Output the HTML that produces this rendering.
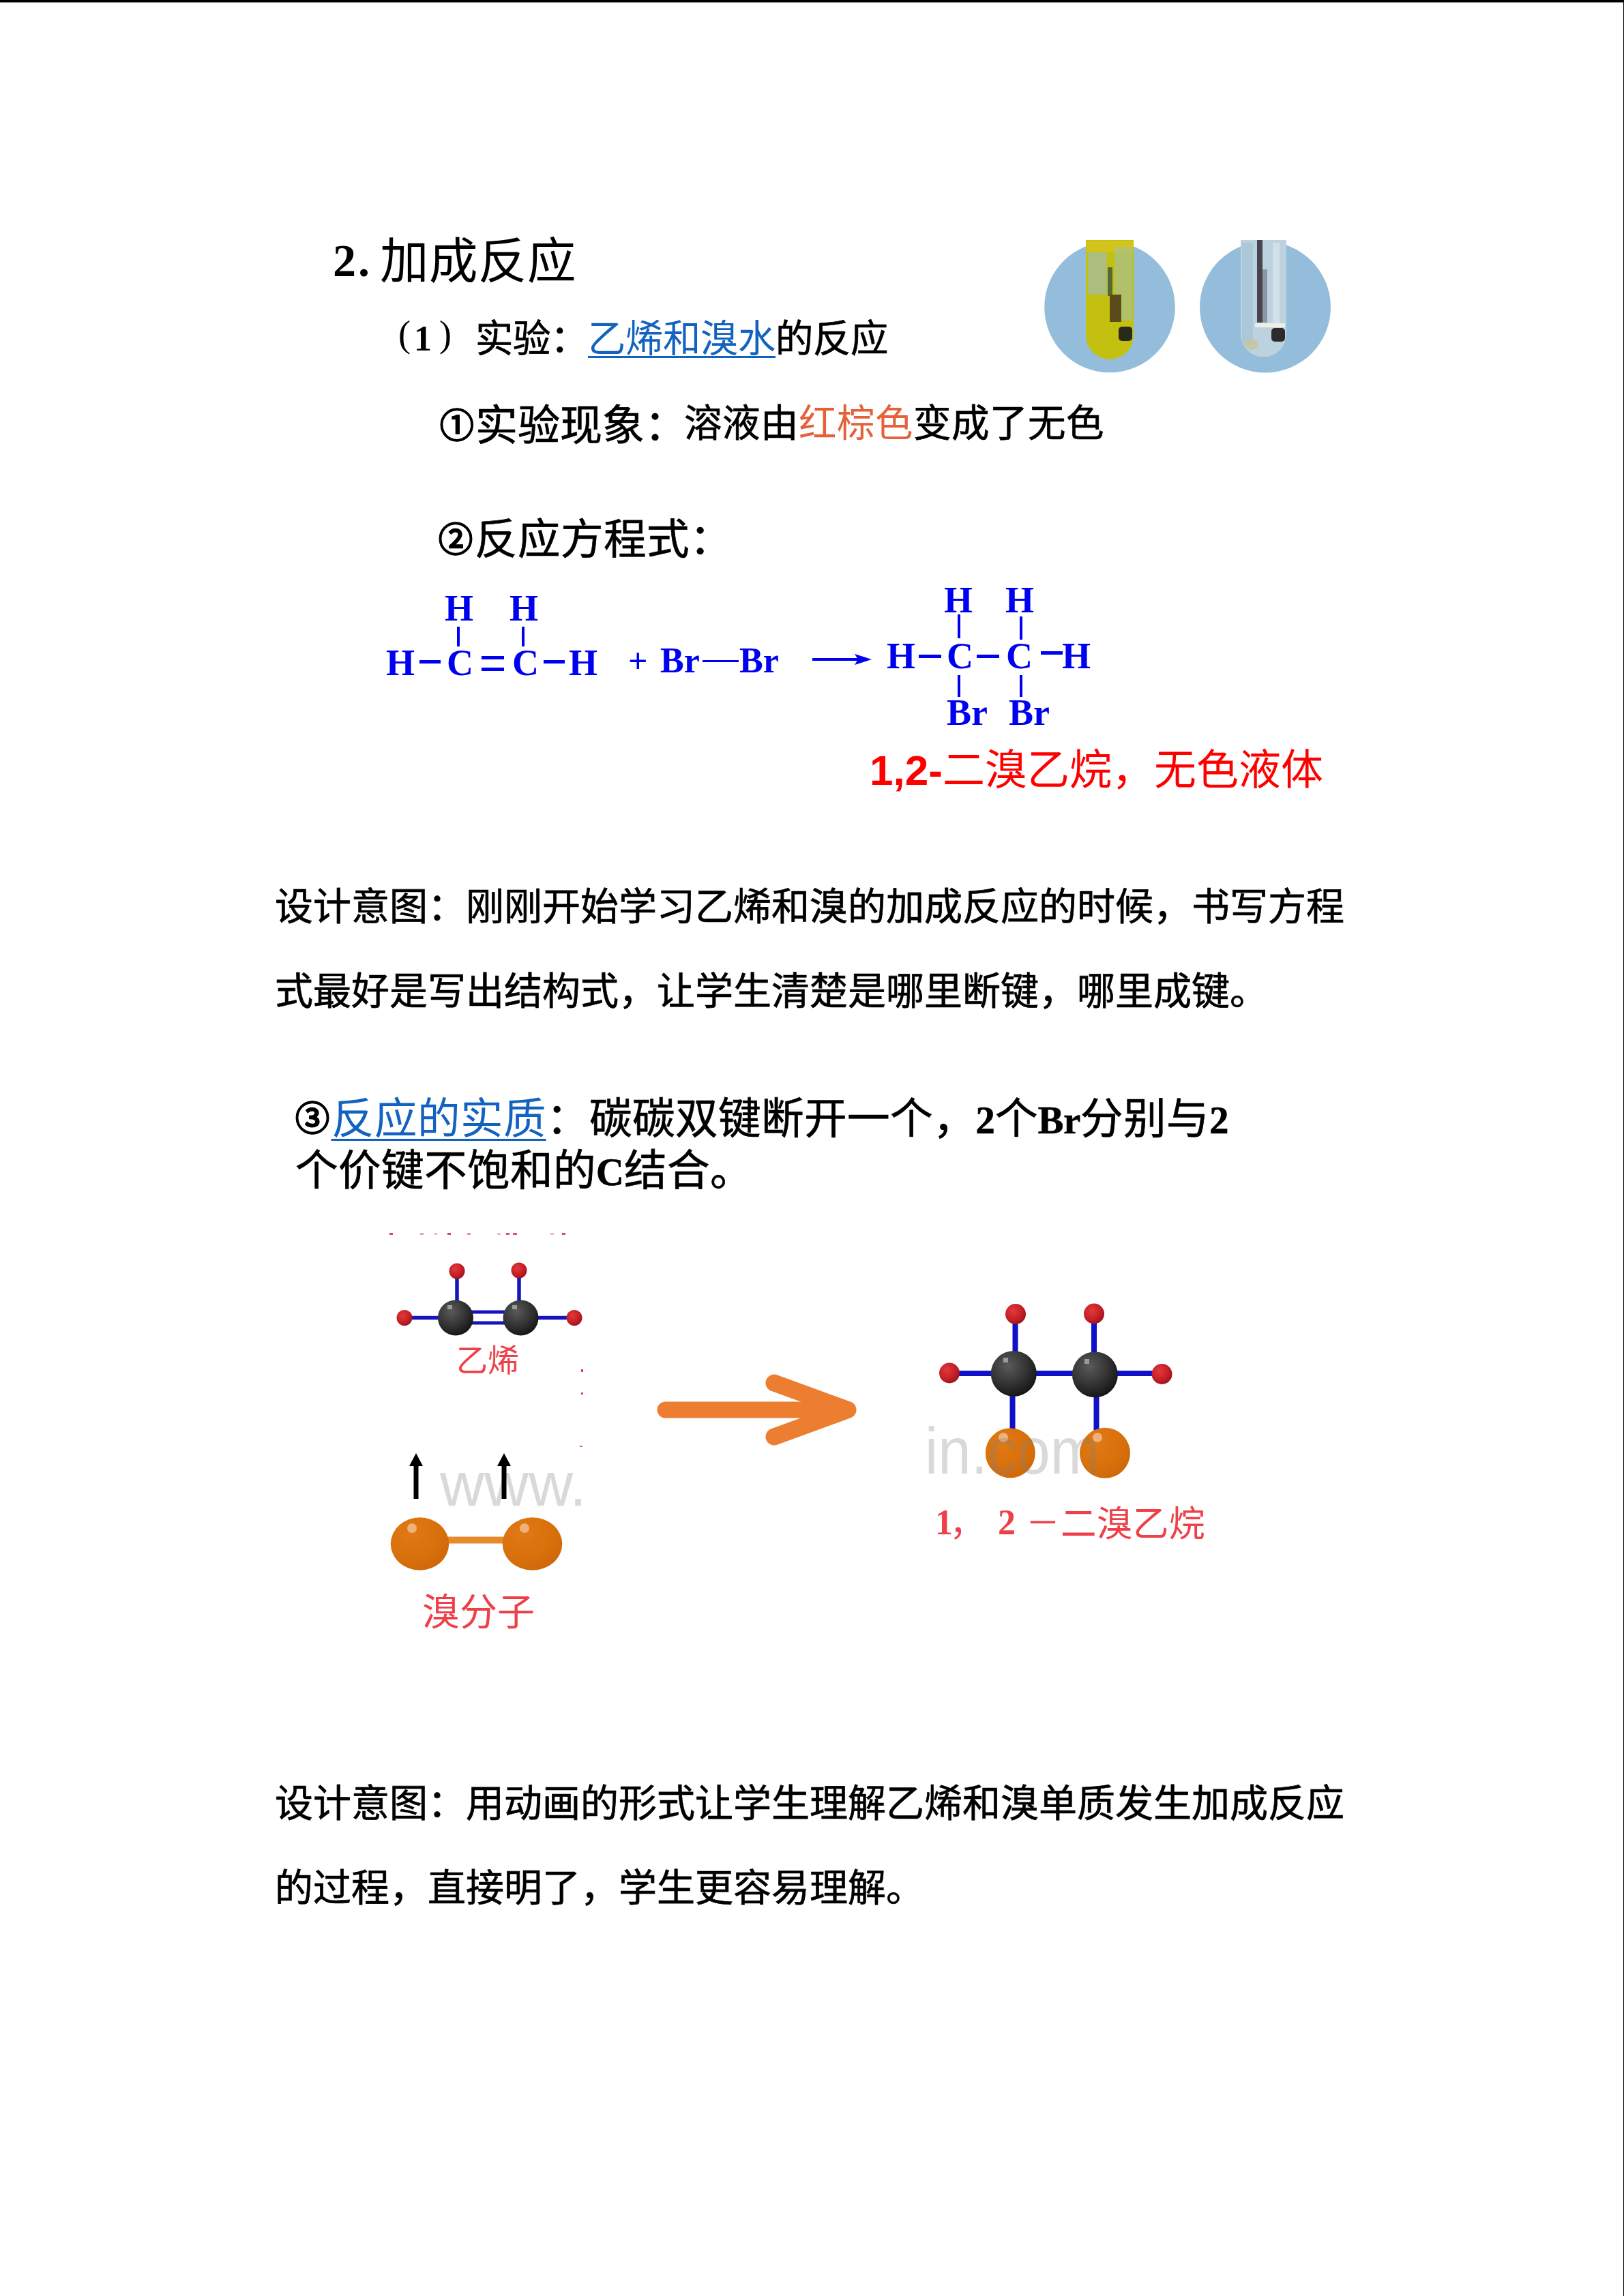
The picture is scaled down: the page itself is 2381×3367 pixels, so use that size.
<!DOCTYPE html>
<html lang="zh-CN">
<head>
<meta charset="utf-8">
<style>
html,body{margin:0;padding:0;}
body{width:2381px;height:3367px;background:#fff;position:relative;overflow:hidden;font-family:"Liberation Serif",serif;color:#000;}
.a{position:absolute;white-space:nowrap;line-height:1;}
.topbar{position:absolute;left:0;top:0;width:2381px;height:3px;background:#000;border-bottom:1px solid #808080;}
.rbar{position:absolute;right:0;top:0;width:1px;height:3367px;background:#000;}
.song{font-family:"Liberation Serif",serif;}
.sans{font-family:"Liberation Sans",sans-serif;}
.blue{color:#1f6fc5;}
.lnk{-webkit-text-stroke:0;color:#1262c0;text-decoration:underline;text-decoration-thickness:2.5px;text-underline-offset:6px;}
.eq{font-family:"Liberation Serif",serif;font-weight:bold;color:#0000f0;}
.cd{font-size:0.8em;vertical-align:0.08em;margin-right:0.05em;font-weight:700;}
.lt{font-weight:bold;font-size:0.9em;}
.bd{-webkit-text-stroke:0.7px currentColor;}
.p{font-size:56px;font-weight:500;}
</style>
</head>
<body>
<div class="topbar"></div>
<div class="rbar"></div>

<!-- Slide image area -->
<div class="a" id="h1" style="left:0;top:0;"><b class="a" style="left:488px;top:348px;font-size:68px;letter-spacing:3px;">2.</b><span class="a" style="left:557px;top:348px;font-size:71.5px;">加成反应</span></div>
<div class="a" id="s1a" style="left:0;top:0;font-size:54px;"><span class="a" style="left:584px;top:463px;">(</span><b class="a" style="left:607px;top:471px;font-size:52px;">1</b><span class="a" style="left:644px;top:463px;">)</span></div>
<div class="a bd" id="s1" style="left:697px;top:470px;font-size:55.4px;font-weight:500;">实验：<span class="lnk">乙烯和溴水</span>的反应</div>



<div class="a bd" id="s2" style="left:645px;top:594px;font-size:62px;font-weight:500;"><span class="cd">①</span>实验现象：</div>
<div class="a bd" id="s2b" style="left:1003px;top:594px;font-size:55.5px;font-weight:500;">溶液由<span style="color:#e6603a;font-weight:400;-webkit-text-stroke:0">红棕色</span>变成了无色</div>
<div class="a bd" id="s3" style="left:643px;top:761px;font-size:62.5px;font-weight:500;"><span class="cd">②</span>反应方程式：</div>


<svg class="a" style="left:0;top:0;" width="2381" height="3367" viewBox="0 0 2381 3367">
<defs>
  <radialGradient id="gC" cx="0.38" cy="0.32" r="0.75">
    <stop offset="0" stop-color="#5a5a5a"/><stop offset="0.55" stop-color="#333"/><stop offset="1" stop-color="#111"/>
  </radialGradient>
  <radialGradient id="gH" cx="0.38" cy="0.35" r="0.75">
    <stop offset="0" stop-color="#e03a3a"/><stop offset="0.6" stop-color="#c41e26"/><stop offset="1" stop-color="#8e1018"/>
  </radialGradient>
  <radialGradient id="gB" cx="0.35" cy="0.3" r="0.8">
    <stop offset="0" stop-color="#e07a14"/><stop offset="0.6" stop-color="#d8700c"/><stop offset="1" stop-color="#cc660a"/>
  </radialGradient>
</defs>
<!-- test tubes -->
<g id="tubes">
  <circle cx="1627" cy="450.5" r="95.8" fill="#93bddb"/>
  <circle cx="1855" cy="450.5" r="96" fill="#93bddb"/>
  <path d="M1592 352 H1662 V492 A35 35 0 0 1 1592 492 Z" fill="#c4c010"/>
  <rect x="1593" y="353" width="68" height="16" fill="#d4c41a"/>
  <rect x="1595" y="370" width="28" height="62" fill="#a4bca4" opacity="0.75"/>
  <rect x="1634" y="362" width="26" height="108" fill="#a8c290" opacity="0.7"/>
  <rect x="1624" y="392" width="7" height="42" fill="#56683a"/>
  <rect x="1627" y="432" width="17" height="40" fill="#5c4c1c"/>
  <rect x="1640" y="479" width="20" height="21" rx="5" fill="#2a2a1c"/>
  <path d="M1819 352 H1886 V490 A33.5 33.5 0 0 1 1819 490 Z" fill="#bcd2de"/>
  <rect x="1821" y="356" width="16" height="150" fill="#a8c4d6" opacity="0.8"/>
  <rect x="1866" y="356" width="10" height="120" fill="#d4e2ea" opacity="0.9"/>
  <rect x="1843" y="352" width="8" height="121" fill="#484450"/>
  <rect x="1851" y="395" width="7" height="78" fill="#8a98a6"/>
  <rect x="1840" y="474" width="44" height="6" fill="#eeeee6"/>
  <rect x="1864" y="481" width="20" height="20" rx="5" fill="#2c2c2c"/>
  <ellipse cx="1835" cy="505" rx="10" ry="8" fill="#cac2a0" opacity="0.8"/>
</g>
<!-- equation -->
<g id="eqn" font-family="Liberation Serif" font-weight="bold" font-size="54" fill="#0000f0">
  <text x="652" y="910">H</text><text x="747" y="910">H</text>
  <rect x="670" y="919" width="4" height="29"/><rect x="765" y="919" width="4" height="29"/>
  <text x="566" y="990">H</text>
  <rect x="615" y="968" width="31" height="5"/>
  <text x="655" y="990">C</text>
  <rect x="706" y="962" width="33" height="5"/><rect x="706" y="979" width="33" height="5"/>
  <text x="751" y="990">C</text>
  <rect x="797" y="968" width="31" height="5"/>
  <text x="834" y="990">H</text>
  <text x="921" y="986" font-size="50">+</text>
  <text x="968" y="986" font-size="52">Br</text>
  <rect x="1030" y="968" width="53" height="3"/>
  <text x="1084" y="986" font-size="52">Br</text>
  <rect x="1191" y="965" width="72" height="4"/>
  <path d="M1253 959 L1278 967 L1253 975 L1258 967 Z"/>
  <text x="1300" y="980">H</text>
  <rect x="1347" y="960" width="33" height="5"/>
  <text x="1388" y="980">C</text>
  <rect x="1432" y="960" width="33" height="5"/>
  <text x="1475" y="980">C</text>
  <rect x="1526" y="955" width="32" height="5"/>
  <text x="1557" y="980">H</text>
  <text x="1384" y="898">H</text><text x="1474" y="898">H</text>
  <rect x="1404" y="901" width="4" height="35"/><rect x="1495" y="904" width="4" height="34"/>
  <rect x="1404" y="990" width="4" height="32"/><rect x="1495" y="990" width="4" height="32"/>
  <text x="1388" y="1063">Br</text><text x="1479" y="1063">Br</text>
</g>
<!-- left molecule image -->
<g id="leftimg">
  <g>
    <rect x="571" y="1808" width="5" height="3" fill="#d8408a"/><rect x="616" y="1808" width="5" height="3" fill="#e6a0c0"/><rect x="637" y="1808" width="4" height="3" fill="#e8b0c8"/>
    <rect x="656" y="1808" width="5" height="3" fill="#d8408a"/><rect x="685" y="1808" width="5" height="3" fill="#e090b0"/><rect x="729" y="1808" width="5" height="3" fill="#ecc0d4"/>
    <rect x="742" y="1808" width="5" height="3" fill="#d85090"/><rect x="752" y="1808" width="6" height="3" fill="#d85090"/><rect x="807" y="1808" width="5" height="3" fill="#ecb8cc"/><rect x="824" y="1808" width="5" height="3" fill="#d8408a"/>
  </g>
  <g stroke="#1414c0" stroke-width="5.5">
    <line x1="593" y1="1932.5" x2="842" y2="1932.5"/>
    <line x1="670" y1="1864" x2="670" y2="1920"/>
    <line x1="761" y1="1863" x2="761" y2="1920"/>
  </g>
  <rect x="690" y="1928" width="55" height="9" fill="#fff"/>
  <rect x="690" y="1921.5" width="50" height="5" fill="#1414c0"/>
  <rect x="690" y="1937.5" width="50" height="5" fill="#1414c0"/>
  <circle cx="593" cy="1932.5" r="11.5" fill="url(#gH)"/>
  <circle cx="842" cy="1932.5" r="11.5" fill="url(#gH)"/>
  <circle cx="670" cy="1864" r="11.5" fill="url(#gH)"/>
  <circle cx="761" cy="1863" r="11.5" fill="url(#gH)"/>
  <circle cx="668" cy="1932.5" r="26" fill="url(#gC)"/>
  <circle cx="763.5" cy="1932.5" r="26" fill="url(#gC)"/>
  <rect x="656" y="1914" width="7" height="6" fill="#9a9a9a"/>
  <rect x="751" y="1914" width="7" height="6" fill="#9a9a9a"/>
  <rect x="852" y="2008" width="3" height="4" fill="#e04040"/>
  <rect x="852" y="2042" width="3" height="3" fill="#e04040"/>
  <rect x="850" y="2120" width="4" height="2" fill="#e06060"/>
  <clipPath id="clipL"><rect x="540" y="1780" width="314" height="640"/></clipPath>
  <text x="645" y="2208" font-family="Liberation Sans" font-size="90" fill="#d9d9d9" clip-path="url(#clipL)">www.</text>
  <g fill="#000">
    <rect x="606.5" y="2147" width="7" height="51"/>
    <path d="M610 2131 L620 2150 L600 2150 Z"/>
    <rect x="735.5" y="2147" width="7" height="51"/>
    <path d="M739 2131 L749 2150 L729 2150 Z"/>
  </g>
  <rect x="655" y="2253.5" width="85" height="10" fill="#e68a2c"/>
  <ellipse cx="615.5" cy="2264" rx="42.7" ry="38.8" fill="url(#gB)"/>
  <ellipse cx="780.5" cy="2264" rx="43.8" ry="38.8" fill="url(#gB)"/>
  <circle cx="604" cy="2241" r="7" fill="#f0b07a"/>
  <circle cx="769" cy="2241" r="7" fill="#f0b07a"/>
</g>
<!-- orange arrow -->
<g id="oarrow" stroke="#ed7d31" fill="none" stroke-linecap="round">
  <line x1="975.5" y1="2067.5" x2="1215" y2="2067.5" stroke-width="24"/>
  <polyline points="1135,2028 1243,2067.5 1135,2107" stroke-width="25" stroke-linejoin="round"/>
</g>
<!-- right molecule -->
<g id="rightimg">
    <g stroke="#1010c8" stroke-width="8">
    <line x1="1392" y1="2014" x2="1703" y2="2014"/>
    <line x1="1488.5" y1="1927" x2="1488.5" y2="2014"/>
    <line x1="1604" y1="1926" x2="1604" y2="2015"/>
    <line x1="1484.5" y1="2014" x2="1484.5" y2="2100"/>
    <line x1="1607.5" y1="2015" x2="1607.5" y2="2100"/>
  </g>
  <circle cx="1392" cy="2013.5" r="15" fill="url(#gH)"/>
  <circle cx="1703.5" cy="2015" r="15" fill="url(#gH)"/>
  <circle cx="1489" cy="1927" r="15" fill="url(#gH)"/>
  <circle cx="1604" cy="1926.5" r="15" fill="url(#gH)"/>
  <circle cx="1486.3" cy="2014.4" r="33.5" fill="url(#gC)"/>
  <circle cx="1605.4" cy="2015.8" r="33.5" fill="url(#gC)"/>
  <rect x="1471" y="1991" width="7" height="7" fill="#9a9a9a"/>
  <rect x="1590" y="1993" width="7" height="7" fill="#9a9a9a"/>
  <circle cx="1481.3" cy="2130.8" r="36.5" fill="url(#gB)"/>
  <circle cx="1620" cy="2130.8" r="37" fill="url(#gB)"/>
  <circle cx="1471" cy="2108" r="7" fill="#f0b07a"/>
  <circle cx="1609" cy="2108" r="7" fill="#f0b07a"/>
  <text x="1356" y="2161" font-family="Liberation Sans" font-size="87" fill="#808080" fill-opacity="0.3" transform="translate(0,2161) scale(1,1.1) translate(0,-2161)">in.com</text>
</g>
</svg>

<div class="a sans" id="red1" style="left:1275px;top:1099px;font-size:62px;color:#f00;"><b>1,2-</b>二溴乙烷，无色液体</div>

<div class="a p bd" id="p1a" style="left:403px;top:1301.5px;">设计意图：刚刚开始学习乙烯和溴的加成反应的时候，书写方程</div>
<div class="a p bd" id="p1b" style="left:403px;top:1426px;">式最好是写出结构式，让学生清楚是哪里断键，哪里成键。</div>

<div class="a bd" id="p3a" style="left:433px;top:1610px;font-size:62.6px;font-weight:500;"><span class="cd">③</span><span class="lnk" style="font-weight:400;text-underline-offset:8px">反应的实质</span>：碳碳双键断开一个，<span class="lt">2</span>个<span class="lt">Br</span>分别与<span class="lt">2</span></div>
<div class="a bd" id="p3b" style="left:433px;top:1685.5px;font-size:62.6px;font-weight:500;">个价键不饱和的<span class="lt">C</span>结合。</div>


<div class="a sans" id="lb1" style="left:669px;top:1972px;font-size:46px;color:#ee4048;">乙烯</div>
<div class="a sans" id="lb2" style="left:619px;top:2337px;font-size:55px;color:#ee4048;">溴分子</div>
<div class="a" id="lb3" style="left:0;top:0;color:#ee4048;">
<span class="a" style="left:1371px;top:2207px;font-size:52px;font-weight:bold;">1</span>
<span class="a" style="left:1392px;top:2209px;font-size:52px;">，</span>
<span class="a" style="left:1463px;top:2207px;font-size:52px;font-weight:bold;">2</span>
<span class="a" style="left:1504px;top:2209px;font-size:50px;">－</span>
<span class="a" style="left:1555px;top:2209px;font-size:52.5px;">二溴乙烷</span>
</div>
<div class="a p bd" id="p2a" style="left:403px;top:2616.5px;">设计意图：用动画的形式让学生理解乙烯和溴单质发生加成反应</div>
<div class="a p bd" id="p2b" style="left:403px;top:2740.5px;">的过程，直接明了，学生更容易理解。</div>

</body>
</html>
